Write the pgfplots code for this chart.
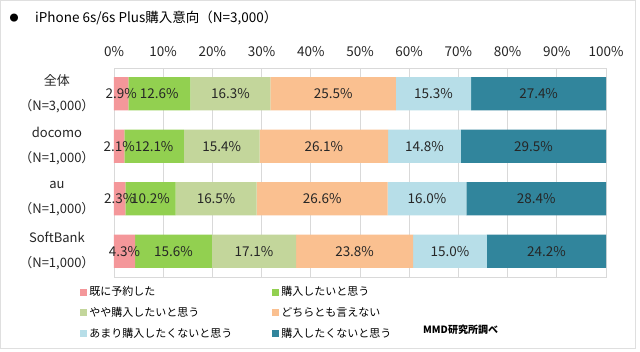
\documentclass[border=0pt]{standalone}
\usepackage{pgfplots}
\pgfplotsset{compat=1.18}
\usepackage{pgfplotstable}
\usepackage{fontspec}
\setmainfont{Noto Sans CJK JP}
\definecolor{c1}{HTML}{F4979A}
\definecolor{c2}{HTML}{92D050}
\definecolor{c3}{HTML}{C3D69B}
\definecolor{c4}{HTML}{FAC090}
\definecolor{c5}{HTML}{B7DEE8}
\definecolor{c6}{HTML}{31859C}
\definecolor{gridc}{HTML}{D9D9D9}
\pgfplotstableread{
cat p1 p2 p3 p4 p5 p6
0 2.9 12.6 16.3 25.5 15.3 27.4
1 2.1 12.1 15.4 26.1 14.8 29.5
2 2.3 10.2 16.5 26.6 16.0 28.4
3 4.3 15.6 17.1 23.8 15.0 24.2
}\datatable
% label positions: middle of each segment
\pgfplotstableread{
x y lab
1.45 0 2.9
9.2 0 12.6
23.65 0 16.3
44.55 0 25.5
64.95 0 15.3
86.3 0 27.4
1.05 1 2.1
8.15 1 12.1
21.9 1 15.4
42.65 1 26.1
63.1 1 14.8
85.25 1 29.5
1.15 2 2.3
7.4 2 10.2
20.75 2 16.5
42.3 2 26.6
63.6 2 16.0
85.8 2 28.4
2.15 3 4.3
12.1 3 15.6
28.45 3 17.1
48.9 3 23.8
68.3 3 15.0
87.9 3 24.2
}\labtable
\begin{document}
\begin{tikzpicture}
\fill[white] (0pt,0pt) rectangle (640pt,-351pt);
\draw[gray!25, line width=0.8pt] (0.5pt,-0.5pt) rectangle (635pt,-348pt);
\node[anchor=center, font=\fontsize{9}{10}\selectfont] at (14pt,-18pt) {●};
\node[anchor=west, inner sep=0pt, font=\fontsize{13.5}{15}\selectfont] at (35pt,-18pt) {iPhone 6s/6s Plus購入意向（N=3,000）};
\node[anchor=west, inner sep=0pt, font=\fontsize{10}{12}\selectfont\bfseries] at (423pt,-330pt) {MMD研究所調べ};
\begin{axis}[
  at={(114pt,-277pt)}, anchor=south west, scale only axis,
  width=492pt, height=209pt,
  xbar stacked, bar width=0.63,
  xmin=0, xmax=100, ymin=-0.49, ymax=3.49, y dir=reverse,
  xtick={0,10,...,100}, xticklabel pos=upper,
  xticklabel={\pgfmathprintnumber{\tick}\%},
  xticklabel style={yshift=8pt},
  ytick={0,1,2,3},
  yticklabels={{全体\\（N=3,000）},{docomo\\（N=1,000）},{au\\（N=1,000）},{SoftBank\\（N=1,000）}},
  yticklabel style={align=center, font=\fontsize{13}{25}\selectfont, xshift=-16pt},
  xmajorgrids, grid style={draw=gridc, line width=0.8pt},
  axis line style={draw=gridc, line width=0.8pt},
  major tick length=0pt,
  /pgf/number format/assume math mode=true,
  tick label style={font=\fontsize{13.5}{15}\selectfont, text=black!85},
  legend columns=2,
  legend cell align=left,
  legend style={at={(-0.069,-0.036)}, anchor=north west, draw=none, fill=none,
    font=\fontsize{11}{13}\selectfont, inner sep=0pt, row sep=6pt,
    /tikz/every even column/.append style={column sep=38pt}},
  legend image code/.code={\fill[#1] (0pt,-3.5pt) rectangle (7pt,3.5pt);},
]
\addplot[fill=c1, draw=none] table[x=p1, y=cat] {\datatable};
\addplot[fill=c2, draw=none] table[x=p2, y=cat] {\datatable};
\addplot[fill=c3, draw=none] table[x=p3, y=cat] {\datatable};
\addplot[fill=c4, draw=none] table[x=p4, y=cat] {\datatable};
\addplot[fill=c5, draw=none] table[x=p5, y=cat] {\datatable};
\addplot[fill=c6, draw=none] table[x=p6, y=cat] {\datatable};
\legend{既に予約した, 購入したいと思う, やや購入したいと思う, どちらとも言えない, あまり購入したくないと思う, 購入したくないと思う}
\end{axis}
\begin{axis}[
  at={(114pt,-277pt)}, anchor=south west, scale only axis,
  width=492pt, height=209pt,
  xmin=0, xmax=100, ymin=-0.49, ymax=3.49, y dir=reverse,
  hide axis, clip=false,
]
\addplot[draw=none, mark=none, nodes near coords={\pgfplotspointmeta\%},
  point meta=explicit symbolic,
  every node near coord/.append style={anchor=center, font=\fontsize{13.5}{15}\selectfont, text=black!85}]
  table[x=x, y=y, meta=lab] {\labtable};
\end{axis}
\end{tikzpicture}
\end{document}
